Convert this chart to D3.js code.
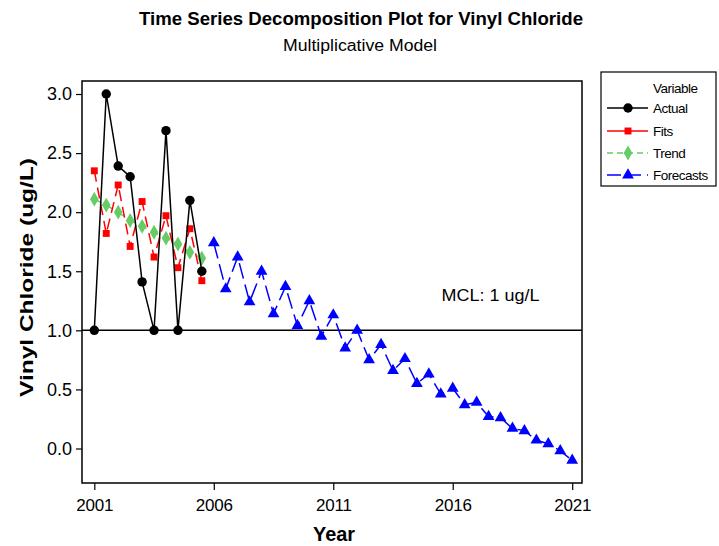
<!DOCTYPE html>
<html>
<head>
<meta charset="utf-8">
<script src="https://cdn.jsdelivr.net/npm/d3@7/dist/d3.min.js"></script>
<style>
  html, body { margin: 0; padding: 0; background: #fff; }
  svg { display: block; font-family: "Liberation Sans", Arial, sans-serif; }
</style>
</head>
<body>
<svg id="chart" width="719" height="546"></svg>
<script>
// Observed time points (half-year steps) and decomposition components
const actualTime = [2001, 2001.5, 2002, 2002.5, 2003, 2003.5, 2004, 2004.5, 2005, 2005.5];
const actual = [1.0, 3.0, 2.39, 2.30, 1.41, 1.0, 2.69, 1.0, 2.10, 1.50];
const fits   = [2.35, 1.82, 2.23, 1.71, 2.09, 1.62, 1.97, 1.53, 1.86, 1.42];
const trend  = [2.11, 2.06, 2.00, 1.93, 1.88, 1.83, 1.78, 1.73, 1.66, 1.61];

// Forecast horizon
const forecastTime = [2006, 2006.5, 2007, 2007.5, 2008, 2008.5, 2009, 2009.5, 2010, 2010.5,
                      2011, 2011.5, 2012, 2012.5, 2013, 2013.5, 2014, 2014.5, 2015, 2015.5,
                      2016, 2016.5, 2017, 2017.5, 2018, 2018.5, 2019, 2019.5, 2020, 2020.5, 2021];
const forecasts = [1.74, 1.35, 1.62, 1.24, 1.50, 1.14, 1.37, 1.04, 1.25, 0.95,
                   1.13, 0.85, 1.00, 0.75, 0.88, 0.66, 0.76, 0.55, 0.63, 0.46,
                   0.51, 0.37, 0.39, 0.27, 0.26, 0.17, 0.15, 0.07, 0.04, -0.02, -0.10];

const mclValue = 1.0;
const xTicks = [2001, 2006, 2011, 2016, 2021];
const yTicks = [0.0, 0.5, 1.0, 1.5, 2.0, 2.5, 3.0];

const svg = d3.select("#chart");
const plot = { left: 82, top: 81, right: 582, bottom: 483 };

const x = d3.scaleLinear().domain([2000.485, 2021.41]).range([plot.left, plot.right]);
const y = d3.scaleLinear().domain([-0.292, 3.11]).range([plot.bottom, plot.top]);

// Titles
svg.append("text").attr("x", 361).attr("y", 25).attr("text-anchor", "middle")
  .attr("font-size", 18).attr("font-weight", "bold")
  .attr("textLength", 444).attr("lengthAdjust", "spacingAndGlyphs")
  .text("Time Series Decomposition Plot for Vinyl Chloride");
svg.append("text").attr("x", 360).attr("y", 51).attr("text-anchor", "middle")
  .attr("font-size", 16)
  .attr("textLength", 154).attr("lengthAdjust", "spacingAndGlyphs")
  .text("Multiplicative Model");

// Axes
const xAxis = d3.axisBottom(x).tickValues(xTicks).tickFormat(d3.format("d")).tickSize(7).tickSizeOuter(0);
const yAxis = d3.axisLeft(y).tickValues(yTicks).tickFormat(d3.format(".1f")).tickSize(6).tickSizeOuter(0);

const gx = svg.append("g").attr("transform", `translate(0,${plot.bottom})`).call(xAxis);
const gy = svg.append("g").attr("transform", `translate(${plot.left},0)`).call(yAxis);
[gx, gy].forEach(g => {
  g.select(".domain").remove();
  g.selectAll(".tick line").attr("stroke", "#000").attr("stroke-width", 1.2);
  g.selectAll(".tick text").attr("fill", "#000")
    .attr("font-family", "Liberation Sans, Arial, sans-serif");
});
gx.selectAll(".tick text").attr("font-size", 17).attr("letter-spacing", -0.2).attr("dy", "1.05em");
gy.selectAll(".tick text").attr("font-size", 18).attr("x", -10);

// Plot frame
svg.append("rect").attr("x", plot.left).attr("y", plot.top)
  .attr("width", plot.right - plot.left).attr("height", plot.bottom - plot.top)
  .attr("fill", "none").attr("stroke", "#000").attr("stroke-width", 1.5);

// Axis labels
svg.append("text").attr("x", 334).attr("y", 541).attr("text-anchor", "middle")
  .attr("font-size", 20).attr("font-weight", "bold")
  .attr("textLength", 42).attr("lengthAdjust", "spacingAndGlyphs").text("Year");
svg.append("text").attr("transform", "translate(33,277.5) rotate(-90)").attr("text-anchor", "middle")
  .attr("font-size", 19).attr("font-weight", "bold")
  .attr("textLength", 239).attr("lengthAdjust", "spacingAndGlyphs")
  .text("Vinyl Chloride (ug/L)");

// MCL reference line and label
svg.append("line").attr("x1", plot.left).attr("x2", plot.right)
  .attr("y1", y(mclValue)).attr("y2", y(mclValue)).attr("stroke", "#000").attr("stroke-width", 1.5);
svg.append("text").attr("x", 441.5).attr("y", 301).attr("font-size", 16)
  .attr("textLength", 98).attr("lengthAdjust", "spacingAndGlyphs")
  .text("MCL: 1 ug/L");

// Series drawing helpers
const line = d3.line().x(d => x(d[0])).y(d => y(d[1]));
const series = [
  { name: "Actual", t: actualTime, v: actual, color: "#000000", dash: null, shape: d3.symbolCircle, size: 70 },
  { name: "Fits", t: actualTime, v: fits, color: "#ff0000", dash: "11,6", shape: d3.symbolSquare, size: 48 },
  { name: "Trend", t: actualTime, v: trend, color: "#66cc66", dash: "8,5", shape: d3.symbolDiamond, size: 64 },
  { name: "Forecasts", t: forecastTime, v: forecasts, color: "#0000ff", dash: "16,6", shape: d3.symbolTriangle, size: 60 }
];

const order = [series[3], series[2], series[1], series[0]];
order.forEach(s => {
  const pts = s.t.map((t, i) => [t, s.v[i]]);
  svg.append("path").datum(pts).attr("d", line).attr("fill", "none")
    .attr("stroke", s.color).attr("stroke-width", 1.5)
    .attr("stroke-dasharray", s.dash);
  svg.append("g").selectAll("path").data(pts).join("path")
    .attr("transform", d => `translate(${x(d[0])},${y(d[1])})`)
    .attr("d", d3.symbol().type(s.shape).size(s.size))
    .attr("fill", s.color);
});

// Legend
const lg = svg.append("g");
lg.append("rect").attr("x", 601).attr("y", 72).attr("width", 115).attr("height", 114)
  .attr("fill", "#fff").attr("stroke", "#000").attr("stroke-width", 1.2);
lg.append("text").attr("x", 653).attr("y", 93).attr("font-size", 13.5).attr("letter-spacing", -0.5).text("Variable");
const legendY = [108, 131, 153, 175];
series.forEach((s, i) => {
  const ly = legendY[i];
  lg.append("line").attr("x1", 607).attr("x2", 648).attr("y1", ly).attr("y2", ly)
    .attr("stroke", s.color).attr("stroke-width", 1.5)
    .attr("stroke-dasharray", s.name === "Trend" ? "6,4" : s.name === "Forecasts" ? "14,6" : null);
  lg.append("path").attr("transform", `translate(628,${ly})`)
    .attr("d", d3.symbol().type(s.shape).size(s.size)).attr("fill", s.color);
  lg.append("text").attr("x", 653).attr("y", ly + 5).attr("font-size", 13.5)
    .attr("letter-spacing", -0.5).text(s.name);
});
</script>
</body>
</html>
